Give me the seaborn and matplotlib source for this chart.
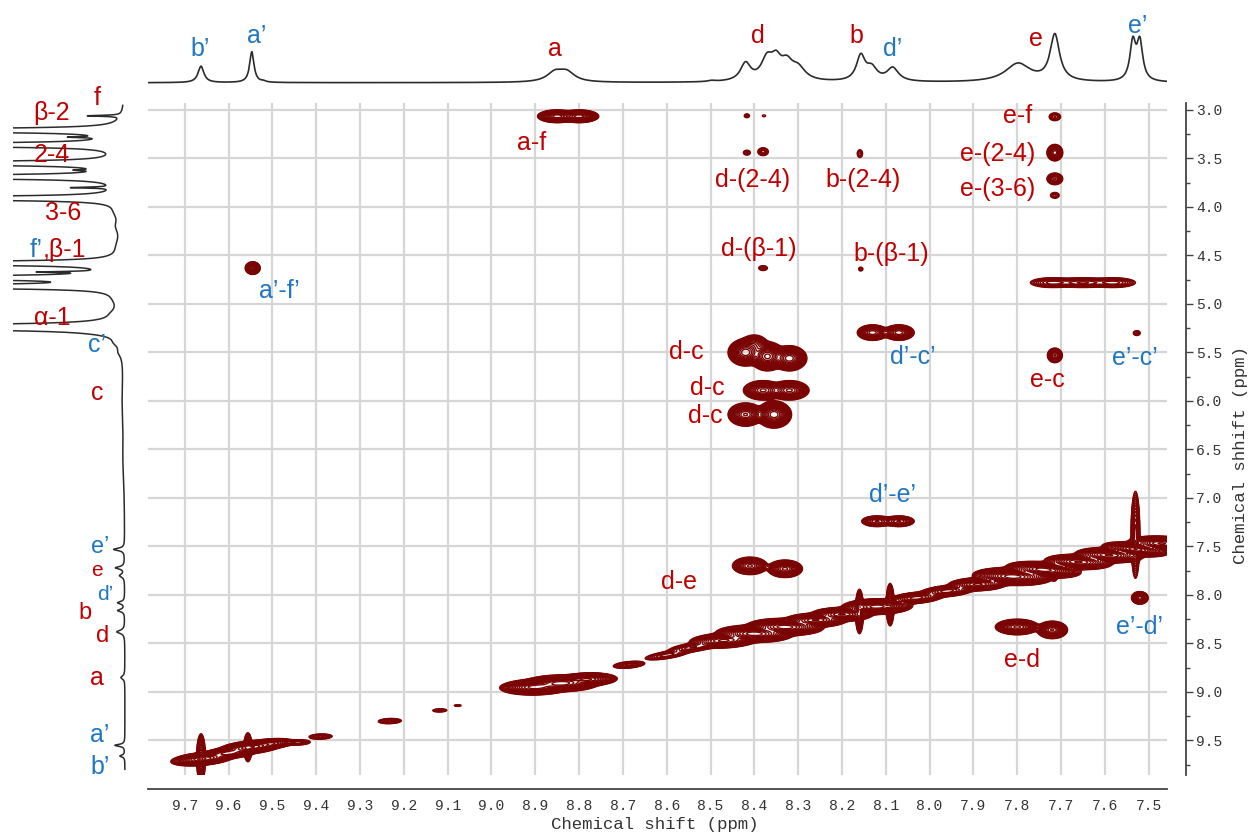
import numpy as np
import pandas as pd
import matplotlib
matplotlib.use("Agg")
import matplotlib.pyplot as plt
from matplotlib.ticker import FixedLocator, MultipleLocator
import seaborn as sns

sns.set_style("white")
MONO = ['Liberation Mono', 'DejaVu Sans Mono']
SANS = ['Liberation Sans', 'DejaVu Sans']
plt.rcParams['font.family'] = MONO

# ---------------- data ----------------
x_ticks = [9.7, 9.6, 9.5, 9.4, 9.3, 9.2, 9.1, 9.0, 8.9, 8.8, 8.7, 8.6,
           8.5, 8.4, 8.3, 8.2, 8.1, 8.0, 7.9, 7.8, 7.7, 7.6, 7.5]
y_ticks = [3.0, 3.5, 4.0, 4.5, 5.0, 5.5, 6.0, 6.5, 7.0, 7.5, 8.0, 8.5, 9.0, 9.5]

# cross peaks: centre (ppm), outer half-width x, outer half-width y, intensity
cross_x = [8.85, 8.80, 8.417, 8.378, 8.417, 8.38, 8.159, 8.38, 8.157, 9.545,
           7.714, 7.714, 7.714, 7.714, 7.72, 7.65, 7.58, 7.714, 7.527,
           8.13, 8.07, 8.42, 8.37, 8.32, 8.40, 8.38, 8.32, 8.42, 8.355,
           8.12, 8.07, 8.41, 8.33, 7.80, 7.72, 7.52,
           9.663, 9.556, 8.16, 8.09, 7.715, 7.53]
cross_y = [3.065, 3.065, 3.06, 3.06, 3.44, 3.43, 3.45, 4.63, 4.64, 4.63,
           3.07, 3.44, 3.71, 3.88, 4.78, 4.78, 4.78, 5.53, 5.30,
           5.295, 5.295, 5.50, 5.54, 5.56, 5.42, 5.89, 5.89, 6.14, 6.14,
           7.24, 7.24, 7.70, 7.73, 8.33, 8.36, 8.03,
           9.68, 9.57, 8.17, 8.10, 7.75, 7.38]
cross_wx = [0.045, 0.045, 0.006, 0.004, 0.008, 0.012, 0.006, 0.010, 0.005, 0.017,
            0.013, 0.018, 0.018, 0.010, 0.05, 0.06, 0.05, 0.017, 0.008,
            0.035, 0.035, 0.04, 0.04, 0.04, 0.03, 0.045, 0.045, 0.04, 0.04,
            0.035, 0.035, 0.04, 0.04, 0.05, 0.035, 0.019,
            0.010, 0.009, 0.009, 0.009, 0.008, 0.010]
cross_wy = [0.065, 0.065, 0.02, 0.01, 0.025, 0.04, 0.04, 0.025, 0.02, 0.065,
            0.04, 0.085, 0.06, 0.03, 0.05, 0.05, 0.05, 0.075, 0.025,
            0.08, 0.08, 0.14, 0.15, 0.13, 0.10, 0.10, 0.10, 0.12, 0.14,
            0.055, 0.055, 0.09, 0.09, 0.08, 0.09, 0.065,
            0.25, 0.15, 0.23, 0.22, 0.10, 0.45]
cross_amp = [120, 120, 2, 1.2, 2.5, 6, 3, 2.5, 1.8, 60,
             4, 30, 12, 2.5, 10, 12, 10, 20, 2.5,
             40, 40, 120, 140, 120, 20, 80, 80, 100, 120,
             20, 20, 60, 80, 80, 100, 50,
             40, 25, 30, 25, 12, 30]

# diagonal peaks: centre, half extent along x, vertical half thickness, intensity
diag_x = [9.66, 9.60, 9.55, 9.50, 9.44, 9.39, 9.232, 9.118, 9.077,
          8.90, 8.84, 8.78, 8.686, 8.60,
          8.54, 8.47, 8.40, 8.33, 8.26, 8.20, 8.12, 8.03, 7.96, 7.89,
          7.81, 7.74, 7.66, 7.59, 7.53, 7.47]
diag_y = [9.69, 9.63, 9.57, 9.53, 9.52, 9.46, 9.30, 9.19, 9.14,
          8.95, 8.91, 8.87, 8.72, 8.62,
          8.54, 8.47, 8.40, 8.33, 8.26, 8.20, 8.12, 8.03, 7.96, 7.89,
          7.81, 7.74, 7.66, 7.59, 7.53, 7.47]
diag_hx = [0.06, 0.05, 0.06, 0.04, 0.02, 0.02, 0.02, 0.012, 0.006,
           0.06, 0.06, 0.05, 0.03, 0.045,
           0.05, 0.06, 0.06, 0.06, 0.05, 0.05, 0.06, 0.05, 0.05, 0.05,
           0.06, 0.05, 0.05, 0.05, 0.04, 0.05]
diag_wy = [0.08, 0.07, 0.08, 0.06, 0.035, 0.035, 0.035, 0.022, 0.012,
           0.11, 0.12, 0.09, 0.04, 0.04,
           0.05, 0.10, 0.13, 0.13, 0.10, 0.10, 0.11, 0.07, 0.07, 0.09,
           0.14, 0.14, 0.12, 0.12, 0.13, 0.12]
diag_amp = [100, 50, 100, 30, 6, 6, 6, 3, 1.8,
            150, 200, 100, 10, 8,
            15, 80, 200, 200, 100, 100, 150, 40, 40, 80,
            200, 200, 100, 100, 150, 100]

# top 1H projection: position (ppm), height, half width
top_pos = [9.663, 9.547, 9.52, 8.855, 8.828, 8.497, 8.42, 8.371, 8.35, 8.326, 8.30,
           8.157, 8.132, 8.084, 7.798, 7.714, 7.536, 7.52]
top_h = [16, 30, 1, 9, 9, 1, 17, 20, 17, 15, 12,
         24, 12, 13, 18, 45, 37, 37]
top_w = [0.008, 0.006, 0.006, 0.022, 0.022, 0.01, 0.014, 0.016, 0.014, 0.016, 0.02,
         0.012, 0.015, 0.016, 0.035, 0.013, 0.008, 0.008]

# left 1H projection: position (ppm), height, half width
left_pos = [3.06, 3.21, 3.28, 3.36, 3.55, 3.62, 3.69, 3.80, 3.91,
            4.05, 4.20, 4.40, 4.58, 4.67, 4.73, 4.82, 4.95, 5.10, 5.24,
            5.30, 5.40, 5.50, 6.00, 6.60, 7.53, 7.72, 7.80, 8.08, 8.16, 8.38,
            8.85, 9.55, 9.66]
left_h = [33, 2000, 30, 2000, 2000, 20, 2000, 40, 2000,
          5, 5, 4, 2000, 55, 2000, 2000, 4, 5, 4000,
          5, 4, 3, 2, 1.5, 11, 9, 5, 7, 7, 8,
          4, 10, 5]
left_w = [0.006, 0.006, 0.006, 0.006, 0.006, 0.006, 0.006, 0.006, 0.006,
          0.08, 0.08, 0.1, 0.006, 0.006, 0.006, 0.006, 0.08, 0.06, 0.006,
          0.03, 0.04, 0.05, 0.3, 0.3, 0.015, 0.015, 0.02, 0.015, 0.015, 0.02,
          0.02, 0.012, 0.012]

# labels
top_lab = ["b’", "a’", "a", "d", "b", "d’", "e", "e’"]
top_lab_x = [9.666, 9.536, 8.855, 8.392, 8.166, 8.084, 7.757, 7.524]
top_lab_y = [33, 45, 33, 45, 45, 33, 43, 55]
top_lab_c = ['b', 'b', 'r', 'r', 'r', 'b', 'r', 'b']

main_lab = ["a-f", "d-(2-4)", "b-(2-4)", "d-(β-1)", "b-(β-1)", "e-f", "e-(2-4)",
            "e-(3-6)", "a’-f’", "d-c", "d-c", "d-c", "d’-c’", "e-c", "e’-c’",
            "d’-e’", "d-e", "e-d", "e’-d’"]
main_lab_x = [8.908, 8.403, 8.152, 8.39, 8.088, 7.80, 7.844,
              7.844, 9.483, 8.556, 8.508, 8.513, 8.038, 7.732, 7.531,
              8.084, 8.572, 7.789, 7.520]
main_lab_y = [3.34, 3.72, 3.72, 4.43, 4.48, 3.06, 3.45,
              3.81, 4.87, 5.49, 5.87, 6.16, 5.55, 5.78, 5.56,
              6.97, 7.87, 8.67, 8.33]
main_lab_c = ['r', 'r', 'r', 'r', 'r', 'r', 'r',
              'r', 'b', 'r', 'r', 'r', 'b', 'r', 'b',
              'b', 'r', 'r', 'b']

left_lab = ["f", "β-2", "2-4", "3-6", "α-1", "c’", "c", "e’", "e", "d’", "b",
            "d", "a", "a’", "b’"]
left_lab_x = [28, 73, 73, 62, 73, 28, 28, 25, 28, 20, 40, 22, 28, 25, 25]
left_lab_y = [2.88, 3.03, 3.46, 4.06, 5.14, 5.42, 5.92, 7.51, 7.75, 8.00, 8.19,
              8.42, 8.86, 9.44, 9.77]
left_lab_s = [18, 18, 18, 18, 18, 18, 18, 17, 15, 15, 17, 17, 18, 18, 18]
left_lab_c = ['r', 'r', 'r', 'r', 'r', 'b', 'r', 'b', 'r', 'b', 'r', 'r', 'r', 'b', 'b']

# ---------------- figure ----------------
RED = '#c00000'
BLUE = '#1f77c4'
CONT = '#7a0404'
COL = {'r': RED, 'b': BLUE}
W, H = 1252, 834
XLIM = (9.784, 7.458)
YLIM = (9.856, 2.928)
FS = 18


def box(l, t, r, b):
    return [l / W, 1 - b / H, (r - l) / W, (b - t) / H]


fig = plt.figure(figsize=(W / 100, H / 100), dpi=100)
ax = fig.add_axes(box(148, 103, 1167, 775))
ax_top = fig.add_axes(box(148, 18, 1167, 93))
ax_left = fig.add_axes(box(13, 103, 140, 775))

# 2D field
xs = np.linspace(7.44, 9.80, 1200)
ys = np.linspace(2.90, 9.90, 900)
X, Y = np.meshgrid(xs, ys)
Z = np.zeros_like(X)
for x0, y0, wx, wy, a in zip(cross_x, cross_y, cross_wx, cross_wy, cross_amp):
    k = np.sqrt(2 * np.log(a))
    gx = np.exp(-0.5 * ((xs - x0) / (wx / k)) ** 2)
    gy = np.exp(-0.5 * ((ys - y0) / (wy / k)) ** 2)
    Z += a * np.outer(gy, gx)
for x0, y0, hx, wy, a in zip(diag_x, diag_y, diag_hx, diag_wy, diag_amp):
    k = np.sqrt(2 * np.log(a))
    dx, dy = X - x0, Y - y0
    u = (dx + dy) / np.sqrt(2)
    v = (dy - dx) / np.sqrt(2)
    su = hx * np.sqrt(2) / k
    sv = wy / np.sqrt(2) / k
    Z += a * np.exp(-0.5 * ((u / su) ** 2 + (v / sv) ** 2))

levels = np.geomspace(1.0, 800, 26)
ax.contour(xs, ys, Z, levels=levels, colors=CONT, linewidths=1.0, zorder=3)

ax.set_xlim(*XLIM)
ax.set_ylim(*YLIM)
ax.xaxis.set_major_locator(FixedLocator(x_ticks))
ax.xaxis.set_minor_locator(MultipleLocator(0.05))
ax.yaxis.set_major_locator(FixedLocator(y_ticks))
ax.yaxis.set_minor_locator(MultipleLocator(0.25))
ax.set_xticklabels([f"{v:.1f}" for v in x_ticks])
ax.set_yticklabels([f"{v:.1f}" for v in y_ticks])
ax.yaxis.tick_right()
ax.grid(True, which='major', color='#d6d6d6', lw=1.6)
ax.set_axisbelow(True)
for s in ['top', 'left']:
    ax.spines[s].set_visible(False)
ax.spines['right'].set_position(('outward', 14))
ax.spines['bottom'].set_position(('outward', 10))
for s in ['right', 'bottom']:
    ax.spines[s].set_color('#444444')
    ax.spines[s].set_linewidth(1.3)
ax.tick_params(axis='both', which='major', direction='out', length=5, width=1,
               color='#444444', labelcolor='#333333', pad=2, labelsize=10.5)
ax.tick_params(axis='both', which='minor', direction='out', length=3, width=1,
               color='#444444')
ax.tick_params(axis='y', which='both', left=False, right=True)

for t, x, y, c in zip(main_lab, main_lab_x, main_lab_y, main_lab_c):
    ax.text(x, y, t, color=COL[c], fontsize=FS, ha='center', va='center',
            zorder=5, fontfamily=SANS)

fig.text(655 / W, 1 - 824 / H, "Chemical shift (ppm)", fontsize=12.5,
         ha='center', va='center', color='#333333')
fig.text(1241 / W, 1 - 455 / H, "Chemical shhift (ppm)", fontsize=12.5,
         ha='center', va='center', rotation=90, color='#333333')

# top projection
tx = np.linspace(7.458, 9.784, 4000)
ti = np.zeros_like(tx)
for p, h, w in zip(top_pos, top_h, top_w):
    ti += h * w ** 2 / (w ** 2 + (tx - p) ** 2)
sns.lineplot(x=tx, y=ti, ax=ax_top, color='#2b2b2b', lw=1.2, estimator=None)
ax_top.set_xlim(*XLIM)
ax_top.set_ylim(-10, 63)
ax_top.axis('off')
for t, x, y, c in zip(top_lab, top_lab_x, top_lab_y, top_lab_c):
    ax_top.text(x, y, t, color=COL[c], fontsize=FS, ha='center', va='center',
                fontfamily=SANS)

# left projection
ly = np.linspace(2.95, 9.80, 8000)
li = np.zeros_like(ly)
for p, h, w in zip(left_pos, left_h, left_w):
    li += h * w ** 2 / (w ** 2 + (ly - p) ** 2)
sns.lineplot(x=li, y=ly, ax=ax_left, color='#2b2b2b', lw=1.1, sort=False, estimator=None)
ax_left.set_xlim(112, -15)
ax_left.set_ylim(*YLIM)
ax_left.axis('off')
for t, x, y, s, c in zip(left_lab, left_lab_x, left_lab_y, left_lab_s, left_lab_c):
    ax_left.text(x, y, t, color=COL[c], fontsize=s, ha='center', va='center',
                 fontfamily=SANS)
ax_left.text(82, 4.44, "f’", color=BLUE, fontsize=FS, ha='right', va='center',
             fontfamily=SANS)
ax_left.text(82, 4.44, ",β-1", color=RED, fontsize=FS, ha='left', va='center',
             fontfamily=SANS)

fig.savefig("out.png", dpi=100)
